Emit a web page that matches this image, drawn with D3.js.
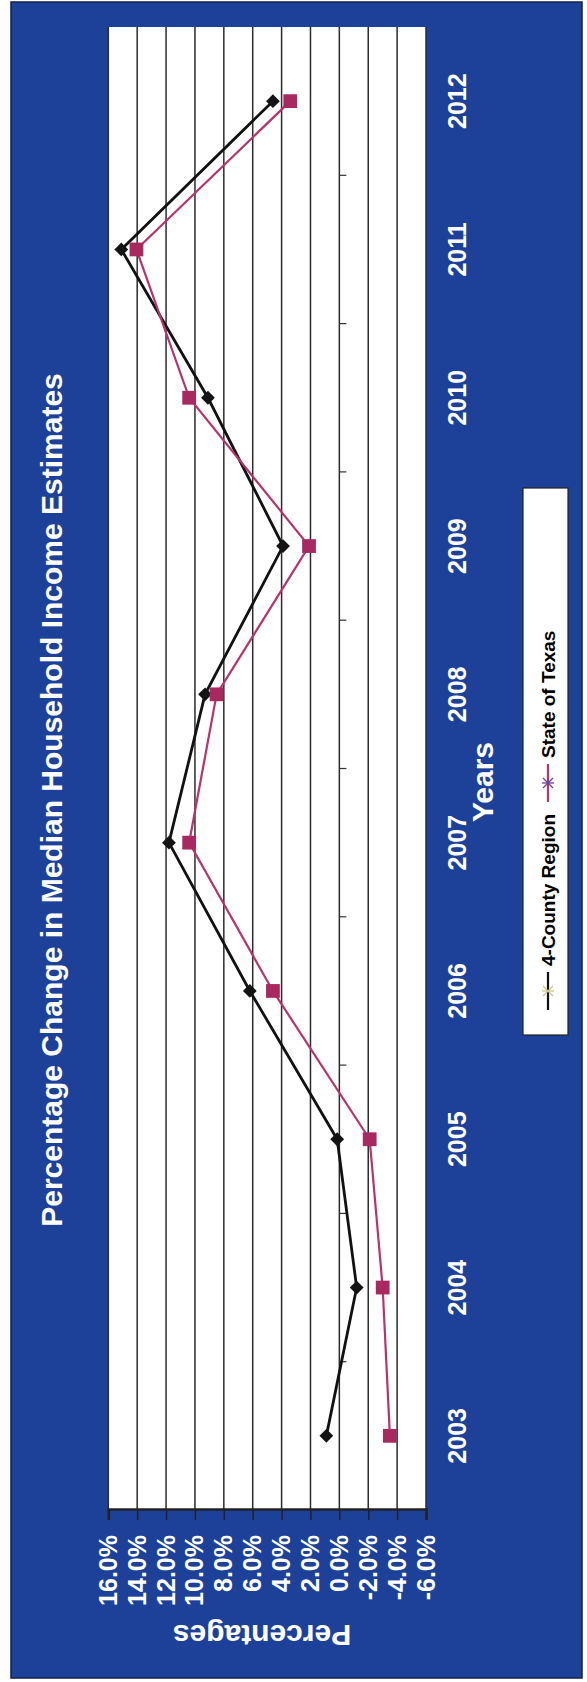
<!DOCTYPE html>
<html>
<head>
<meta charset="utf-8">
<script src="https://cdn.jsdelivr.net/npm/d3@7"></script>
<style>
  body { margin: 0; background: #fff; }
  svg { display: block; }
  text { font-family: "Liberation Sans", Arial, sans-serif; font-weight: bold; }
</style>
</head>
<body>
<svg id="chart" width="587" height="1682"></svg>
<script>
// Years on the category axis
const years = ["2003", "2004", "2005", "2006", "2007", "2008", "2009", "2010", "2011", "2012"];
// Annual % change in median household income
const countyPct = [0.9, -1.2, 0.15, 6.2, 11.8, 9.3, 3.9, 9.1, 15.1, 4.6];
const texasPct  = [-3.5, -3.0, -2.1, 4.6, 10.4, 8.5, 2.1, 10.4, 14.05, 3.4];
// Value-axis ticks
const pctTicks = [16, 14, 12, 10, 8, 6, 4, 2, 0, -2, -4, -6];
const seriesNames = ["4-County Region", "State of Texas"];

const W = 1682, H = 587;   // chart is laid out landscape, then turned a quarter turn
const svg = d3.select("#chart");
const g = svg.append("g").attr("transform", `translate(0,${W}) rotate(-90)`);

// blue chart area
g.append("rect")
  .attr("x", 4).attr("y", 11).attr("width", 1676).attr("height", 571)
  .attr("fill", "#1d4198").attr("stroke", "#10204a").attr("stroke-width", 1.5);

const plot = { left: 172, right: 1655, top: 108.3, bottom: 426 };
const x = d3.scaleBand().domain(years).range([plot.left, plot.right]);
const cx = d => x(d) + x.bandwidth() / 2;
const y = d3.scaleLinear().domain([-6, 16]).range([plot.bottom, plot.top]);
const fmt = d => d.toFixed(1) + "%";

// plot area
g.append("rect")
  .attr("x", plot.left).attr("y", plot.top)
  .attr("width", plot.right - plot.left).attr("height", plot.bottom - plot.top)
  .attr("fill", "#fff");

// gridlines
g.append("g").selectAll("line").data(pctTicks).join("line")
  .attr("x1", plot.left).attr("x2", plot.right)
  .attr("y1", d => y(d)).attr("y2", d => y(d))
  .attr("stroke", "#2b2b2b").attr("stroke-width", 1.5);

// value axis
const yAxis = g.append("g").attr("transform", `translate(${plot.left},0)`)
  .call(d3.axisLeft(y).tickValues(pctTicks).tickSize(10).tickPadding(15).tickFormat(fmt));
yAxis.select(".domain").attr("stroke", "#222").attr("stroke-width", 2.5);
yAxis.selectAll(".tick line").attr("stroke", "#222").attr("stroke-width", 1.5);
yAxis.selectAll(".tick text").attr("fill", "#fff").attr("font-size", 25)
  .attr("font-family", "'Liberation Sans', Arial, sans-serif").attr("font-weight", "bold");

// category axis tick marks between years, on the 0% line
g.append("g").selectAll("line").data(years.slice(1)).join("line")
  .attr("x1", d => x(d)).attr("x2", d => x(d))
  .attr("y1", y(0)).attr("y2", y(0) + 7)
  .attr("stroke", "#333").attr("stroke-width", 1.2);

// year labels
g.append("g").selectAll("text").data(years).join("text")
  .attr("x", d => cx(d)).attr("y", 466)
  .attr("text-anchor", "middle").attr("fill", "#fff").attr("font-size", 25)
  .text(d => d);

// series
const line = d3.line().x((d, i) => cx(years[i])).y(d => y(d));
g.append("path").datum(countyPct).attr("d", line)
  .attr("fill", "none").attr("stroke", "#111").attr("stroke-width", 2.8);
g.append("g").selectAll("path").data(countyPct).join("path")
  .attr("d", d3.symbol(d3.symbolSquare, 95)())
  .attr("transform", (d, i) => `translate(${cx(years[i])},${y(d)}) rotate(45)`)
  .attr("fill", "#141414");

g.append("path").datum(texasPct).attr("d", line)
  .attr("fill", "none").attr("stroke", "#b8336c").attr("stroke-width", 2.2);
g.append("g").selectAll("path").data(texasPct).join("path")
  .attr("d", d3.symbol(d3.symbolSquare, 190)())
  .attr("transform", (d, i) => `translate(${cx(years[i])},${y(d)})`)
  .attr("fill", "#a8295f");

// titles
g.append("text").attr("x", 882).attr("y", 62).attr("text-anchor", "middle")
  .attr("fill", "#fff").attr("font-size", 30)
  .text("Percentage Change in Median Household Income Estimates");
g.append("text").attr("transform", "translate(57,262) rotate(-90)")
  .attr("text-anchor", "middle").attr("fill", "#fff").attr("font-size", 30)
  .text("Percentages");
g.append("text").attr("x", 900).attr("y", 493)
  .attr("text-anchor", "middle").attr("fill", "#fff").attr("font-size", 30)
  .text("Years");

// legend
const lg = g.append("g");
lg.append("rect").attr("x", 647).attr("y", 523).attr("width", 547).attr("height", 45)
  .attr("fill", "#fff").attr("stroke", "#222").attr("stroke-width", 1.2);
const legendItems = [
  { name: seriesNames[0], color: "#111", x0: 672, x1: 710, tx: 716 },
  { name: seriesNames[1], color: "#b8336c", x0: 880, x1: 918, tx: 924 }
];
legendItems.forEach((it, k) => {
  lg.append("line").attr("x1", it.x0).attr("x2", it.x1).attr("y1", 548).attr("y2", 548)
    .attr("stroke", it.color).attr("stroke-width", 2.2);
  const mx = (it.x0 + it.x1) / 2;
  const mk = lg.append("g").attr("transform", `translate(${mx},548)`)
    .attr("stroke", k === 0 ? "#c9c48a" : "#6b3b9a").attr("stroke-width", 1.3);
  mk.append("line").attr("x1", -5).attr("x2", 5).attr("y1", -5).attr("y2", 5);
  mk.append("line").attr("x1", -5).attr("x2", 5).attr("y1", 5).attr("y2", -5);
  mk.append("line").attr("x1", 0).attr("x2", 0).attr("y1", -6).attr("y2", 6);
  lg.append("text").attr("x", it.tx).attr("y", 555).attr("fill", "#000").attr("font-size", 19)
    .text(it.name);
});
</script>
</body>
</html>
